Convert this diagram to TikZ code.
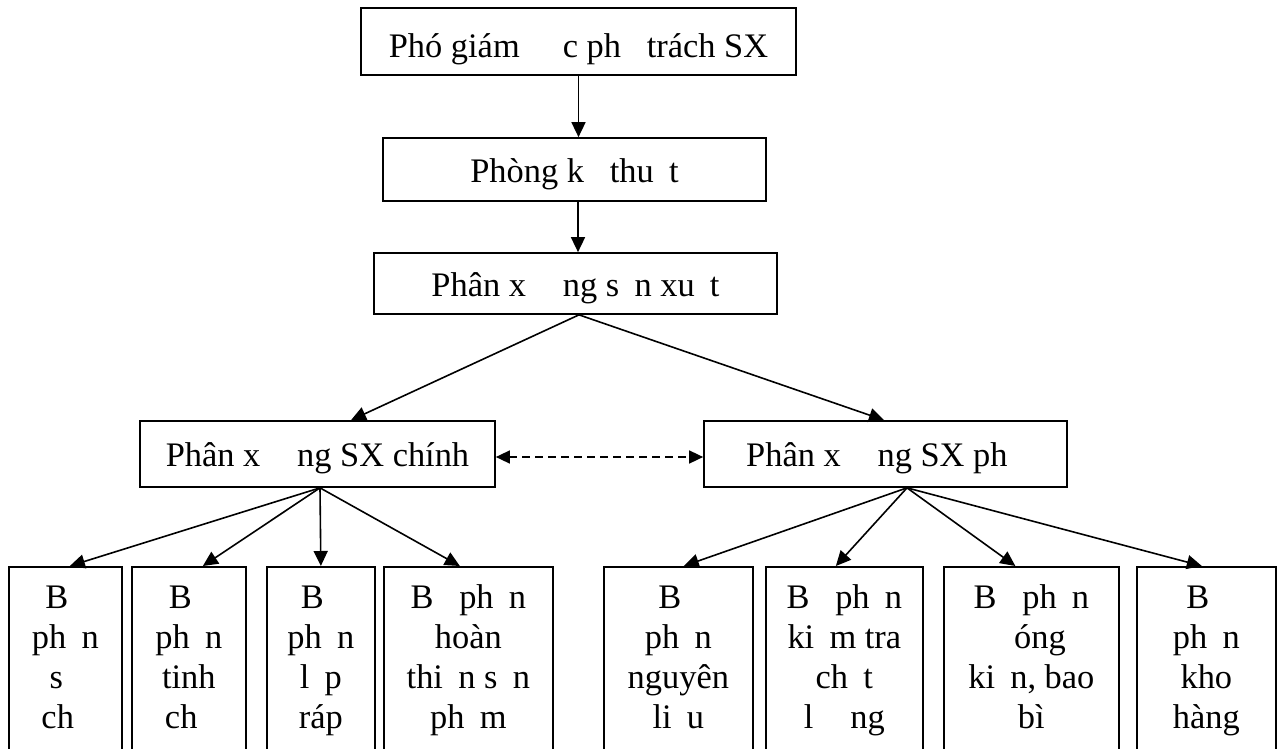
\documentclass[tikz,border=0pt]{standalone}
\usepackage{fontspec}
\setmainfont{Liberation Serif}
\usetikzlibrary{arrows.meta}
\newcommand\miss[1]{\phantom{#1}}
\begin{document}
\begin{tikzpicture}[x=1pt,y=-1pt,
  font=\fontsize{34.4}{40}\selectfont,
  box/.style={draw, line width=1.7pt, inner sep=0pt, text height=25pt, text depth=0pt},
  tall/.style={draw, line width=1.7pt, inner sep=0pt, anchor=north west, minimum height=200pt},
  lbl/.style={anchor=north, align=center, inner sep=0pt, yshift=-14pt},
  arr/.style={line width=1.6pt, -{Triangle[length=15pt,width=14pt]}},
  darr/.style={line width=1.5pt, dash pattern=on 8pt off 5pt,
    {Triangle[length=14pt,width=13pt]}-{Triangle[length=14pt,width=13pt]}}]
\useasboundingbox (0,0) rectangle (1282,749);

% upper chain
\node[box, minimum width=435pt, minimum height=67pt, text height=33pt] (top) at (578.5,41.5)
  {Phó giám \miss{đố}c ph\miss{ụ} trách SX};
\node[box, minimum width=383pt, minimum height=63pt] (b2) at (574.5,169.5)
  {Phòng k\miss{ỹ} thu\miss{ậ}t};
\node[box, minimum width=403pt, minimum height=61pt] (b3) at (575.5,283.5)
  {Phân x\miss{ưở}ng s\miss{ả}n xu\miss{ấ}t};
\node[box, minimum width=355pt, minimum height=66pt] (lm) at (317.5,454)
  {Phân x\miss{ưở}ng SX chính};
\node[box, minimum width=363pt, minimum height=66pt] (rm) at (885.5,454)
  {Phân x\miss{ưở}ng SX ph\miss{ụ}};

% bottom boxes (open at the bottom edge of the picture)
\node[tall, minimum width=113pt] (c1) at (8,566) {};
\node[tall, minimum width=114pt] (c2) at (131,566) {};
\node[tall, minimum width=108pt] (c3) at (266,566) {};
\node[tall, minimum width=169pt] (c4) at (383,566) {};
\node[tall, minimum width=149pt] (c5) at (603,566) {};
\node[tall, minimum width=157pt] (c6) at (765,566) {};
\node[tall, minimum width=175pt] (c7) at (943,566) {};
\node[tall, minimum width=139pt] (c8) at (1136,566) {};

\node[lbl] (t1) at (c1.north) {\strut B\miss{ộ}\\\strut ph\miss{ậ}n\\\strut s\miss{ơ}\\\strut ch\miss{ế}};
\node[lbl] (t2) at (c2.north) {\strut B\miss{ộ}\\\strut ph\miss{ậ}n\\\strut tinh\\\strut ch\miss{ế}};
\node[lbl] (t3) at (c3.north) {\strut B\miss{ộ}\\\strut ph\miss{ậ}n\\\strut l\miss{ắ}p\\\strut ráp};
\node[lbl] (t4) at (c4.north) {\strut B\miss{ộ} ph\miss{ậ}n\\\strut hoàn\\\strut thi\miss{ệ}n s\miss{ả}n\\\strut ph\miss{ẩ}m};
\node[lbl] (t5) at (c5.north) {\strut B\miss{ộ}\\\strut ph\miss{ậ}n\\\strut nguyên\\\strut li\miss{ệ}u};
\node[lbl] (t6) at (c6.north) {\strut B\miss{ộ} ph\miss{ậ}n\\\strut ki\miss{ể}m tra\\\strut ch\miss{ấ}t\\\strut l\miss{ượ}ng};
\node[lbl] (t7) at (c7.north) {\strut B\miss{ộ} ph\miss{ậ}n\\\strut \miss{đ}óng\\\strut ki\miss{ệ}n, bao\\\strut bì};
\node[lbl] (t8) at (c8.north) {\strut B\miss{ộ}\\\strut ph\miss{ậ}n\\\strut kho\\\strut hàng};

% connectors
\draw[arr] (top.south) -- (top.south |- b2.north);
\coordinate (a2) at ([xshift=3.5pt]b2.south);
\draw[arr] (a2) -- (a2 |- b3.north);
\coordinate (f0) at ([xshift=3.5pt]b3.south);
\draw[arr] (f0) -- ([xshift=33.5pt]lm.north);
\draw[arr] (f0) -- ([xshift=-1.5pt]rm.north);
\draw[darr] ([yshift=-3pt]lm.east) -- ([yshift=-3pt]rm.west);

\coordinate (f1) at ([xshift=2.5pt]lm.south);
\draw[arr] (f1) -- ([xshift=4.5pt]c1.north);
\draw[arr] (f1) -- ([xshift=14pt]c2.north);
\draw[arr] (f1) -- (c3.north);
\draw[arr] (f1) -- ([xshift=-8.5pt]c4.north);

\coordinate (f2) at ([xshift=21.5pt]rm.south);
\draw[arr] (f2) -- ([xshift=5.5pt]c5.north);
\draw[arr] (f2) -- ([xshift=-8.5pt]c6.north);
\draw[arr] (f2) -- ([xshift=-16pt]c7.north);
\draw[arr] (f2) -- ([xshift=-4.5pt]c8.north);
\end{tikzpicture}
\end{document}
